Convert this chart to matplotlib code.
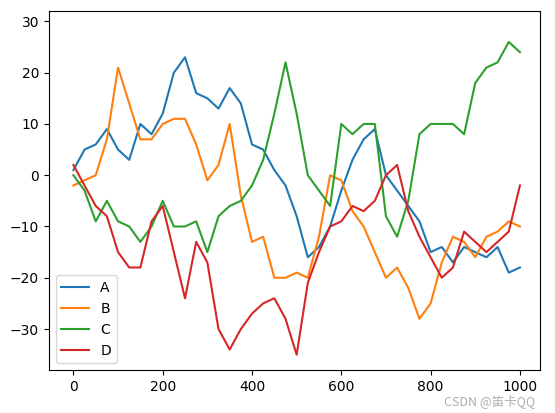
import matplotlib
matplotlib.use("Agg")
import matplotlib.pyplot as plt

t = list(range(0, 1001, 25))
A = [1, 5, 6, 9, 5, 3, 10, 8, 12, 20, 23, 16, 15, 13, 17, 14, 6, 5, 1, -2, -8, -16, -14, -10,
     -3, 3, 7, 9, 0, -3, -6, -9, -15, -14, -17, -14, -15, -16, -14, -19, -18]
B = [-2, -1, 0, 7, 21, 14, 7, 7, 10, 11, 11, 6, -1, 2, 10, -4, -13, -12, -20, -20, -19, -20, -12, 0,
     -1, -7, -10, -15, -20, -18, -22, -28, -25, -17, -12, -13, -16, -12, -11, -9, -10]
C = [0, -3, -9, -5, -9, -10, -13, -10, -5, -10, -10, -9, -15, -8, -6, -5, -2, 3, 12, 22, 12, 0, -3, -6,
     10, 8, 10, 10, -8, -12, -5, 8, 10, 10, 10, 8, 18, 21, 22, 26, 24]
D = [2, -2, -6, -8, -15, -18, -18, -9, -6, -15, -24, -13, -17, -30, -34, -30, -27, -25, -24, -28, -35, -21,
     -15, -10, -9, -6, -7, -5, 0, 2, -7, -12, -16, -20, -18, -11, -13, -15, -13, -11, -2]
series = {"A": A, "B": B, "C": C, "D": D}

fig = plt.figure(figsize=(5.55, 4.13), dpi=100)
ax = fig.add_axes([0.088, 0.104, 0.885, 0.869])
for name, vals in series.items():
    ax.plot(t, vals, label=name)
ax.set_xlim(-55, 1045)
ax.set_ylim(-38, 32)
ax.legend(loc="lower left")
fig.text(0.80, 0.02, "CSDN @笛卡QQ", color="#999999", fontsize=9,
         family=["Noto Sans CJK SC", "DejaVu Sans"], alpha=0.8)
fig.savefig("out.png", dpi=100)
